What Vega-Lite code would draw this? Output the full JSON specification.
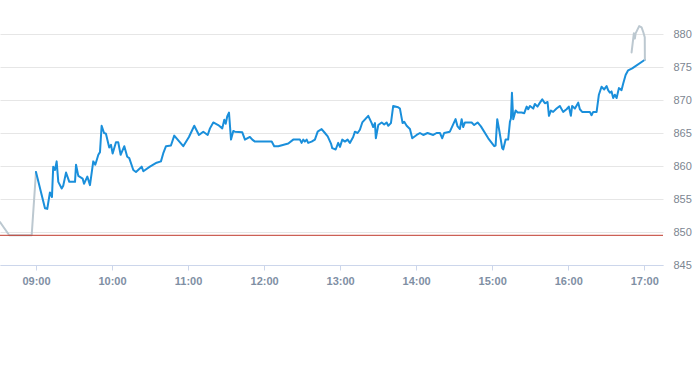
{
  "$schema": "https://vega.github.io/schema/vega-lite/v6.json",
  "width": 663,
  "height": 264,
  "autosize": {"type": "none"},
  "padding": {"left": 0, "top": 1, "right": 30, "bottom": 100},
  "background": "white",
  "config": {"view": {"stroke": null}, "font": "Liberation Sans"},
  "layer": [
    {
      "data": {"values": [
        {"s": "pre", "t": 511.6, "p": 851.5},
        {"s": "pre", "t": 518.9, "p": 849.5},
        {"s": "pre", "t": 536.6, "p": 849.5},
        {"s": "pre", "t": 540.0, "p": 859.1},
        {"s": "main", "t": 540.0, "p": 859.1},
        {"s": "main", "t": 547.1, "p": 853.6},
        {"s": "main", "t": 548.9, "p": 853.5},
        {"s": "main", "t": 551.0, "p": 856.0},
        {"s": "main", "t": 552.6, "p": 855.3},
        {"s": "main", "t": 553.6, "p": 859.9},
        {"s": "main", "t": 555.0, "p": 859.4},
        {"s": "main", "t": 556.3, "p": 860.7},
        {"s": "main", "t": 557.6, "p": 857.6},
        {"s": "main", "t": 560.3, "p": 856.6},
        {"s": "main", "t": 561.5, "p": 857.0},
        {"s": "main", "t": 563.7, "p": 859.0},
        {"s": "main", "t": 566.3, "p": 857.6},
        {"s": "main", "t": 570.8, "p": 857.6},
        {"s": "main", "t": 571.6, "p": 860.2},
        {"s": "main", "t": 573.4, "p": 858.5},
        {"s": "main", "t": 576.8, "p": 858.1},
        {"s": "main", "t": 577.9, "p": 857.3},
        {"s": "main", "t": 580.5, "p": 858.4},
        {"s": "main", "t": 582.6, "p": 857.1},
        {"s": "main", "t": 585.2, "p": 860.7},
        {"s": "main", "t": 586.8, "p": 860.2},
        {"s": "main", "t": 589.2, "p": 861.7},
        {"s": "main", "t": 590.5, "p": 862.1},
        {"s": "main", "t": 591.8, "p": 866.1},
        {"s": "main", "t": 593.7, "p": 865.0},
        {"s": "main", "t": 595.2, "p": 864.9},
        {"s": "main", "t": 597.8, "p": 862.8},
        {"s": "main", "t": 599.2, "p": 863.2},
        {"s": "main", "t": 600.5, "p": 861.9},
        {"s": "main", "t": 603.1, "p": 863.6},
        {"s": "main", "t": 604.9, "p": 863.6},
        {"s": "main", "t": 606.8, "p": 861.7},
        {"s": "main", "t": 609.7, "p": 863.0},
        {"s": "main", "t": 612.0, "p": 861.4},
        {"s": "main", "t": 613.6, "p": 861.2},
        {"s": "main", "t": 616.8, "p": 859.4},
        {"s": "main", "t": 618.9, "p": 859.1},
        {"s": "main", "t": 623.4, "p": 859.9},
        {"s": "main", "t": 624.7, "p": 859.2},
        {"s": "main", "t": 629.9, "p": 859.9},
        {"s": "main", "t": 635.2, "p": 860.5},
        {"s": "main", "t": 638.6, "p": 860.7},
        {"s": "main", "t": 640.4, "p": 861.9},
        {"s": "main", "t": 642.6, "p": 863.0},
        {"s": "main", "t": 646.5, "p": 863.1},
        {"s": "main", "t": 649.1, "p": 864.6},
        {"s": "main", "t": 651.8, "p": 864.0},
        {"s": "main", "t": 656.2, "p": 863.0},
        {"s": "main", "t": 660.7, "p": 864.4},
        {"s": "main", "t": 664.9, "p": 866.1},
        {"s": "main", "t": 668.6, "p": 864.7},
        {"s": "main", "t": 672.0, "p": 865.2},
        {"s": "main", "t": 675.5, "p": 864.7},
        {"s": "main", "t": 677.3, "p": 865.7},
        {"s": "main", "t": 679.9, "p": 866.6},
        {"s": "main", "t": 683.8, "p": 866.2},
        {"s": "main", "t": 687.0, "p": 865.7},
        {"s": "main", "t": 688.6, "p": 867.0},
        {"s": "main", "t": 689.7, "p": 866.4},
        {"s": "main", "t": 690.9, "p": 867.5},
        {"s": "main", "t": 692.3, "p": 868.1},
        {"s": "main", "t": 693.9, "p": 864.0},
        {"s": "main", "t": 695.7, "p": 865.3},
        {"s": "main", "t": 697.0, "p": 865.2},
        {"s": "main", "t": 702.8, "p": 865.1},
        {"s": "main", "t": 704.9, "p": 864.0},
        {"s": "main", "t": 708.8, "p": 864.4},
        {"s": "main", "t": 710.7, "p": 864.0},
        {"s": "main", "t": 712.8, "p": 863.7},
        {"s": "main", "t": 726.0, "p": 863.7},
        {"s": "main", "t": 728.0, "p": 863.0},
        {"s": "main", "t": 731.2, "p": 863.0},
        {"s": "main", "t": 739.1, "p": 863.4},
        {"s": "main", "t": 743.0, "p": 864.0},
        {"s": "main", "t": 748.3, "p": 864.0},
        {"s": "main", "t": 749.6, "p": 863.5},
        {"s": "main", "t": 750.9, "p": 864.0},
        {"s": "main", "t": 752.2, "p": 863.7},
        {"s": "main", "t": 753.6, "p": 864.0},
        {"s": "main", "t": 754.8, "p": 863.5},
        {"s": "main", "t": 757.5, "p": 863.7},
        {"s": "main", "t": 760.1, "p": 864.0},
        {"s": "main", "t": 762.3, "p": 865.2},
        {"s": "main", "t": 765.4, "p": 865.6},
        {"s": "main", "t": 768.0, "p": 865.0},
        {"s": "main", "t": 770.2, "p": 864.5},
        {"s": "main", "t": 772.8, "p": 863.4},
        {"s": "main", "t": 773.8, "p": 862.7},
        {"s": "main", "t": 776.5, "p": 862.5},
        {"s": "main", "t": 778.5, "p": 863.5},
        {"s": "main", "t": 779.9, "p": 862.9},
        {"s": "main", "t": 781.7, "p": 864.0},
        {"s": "main", "t": 783.8, "p": 863.7},
        {"s": "main", "t": 785.9, "p": 864.0},
        {"s": "main", "t": 787.7, "p": 863.5},
        {"s": "main", "t": 790.3, "p": 864.4},
        {"s": "main", "t": 791.7, "p": 865.2},
        {"s": "main", "t": 793.8, "p": 865.0},
        {"s": "main", "t": 795.6, "p": 865.5},
        {"s": "main", "t": 797.5, "p": 866.6},
        {"s": "main", "t": 802.2, "p": 867.6},
        {"s": "main", "t": 804.9, "p": 866.5},
        {"s": "main", "t": 806.1, "p": 865.9},
        {"s": "main", "t": 807.5, "p": 866.5},
        {"s": "main", "t": 808.2, "p": 864.2},
        {"s": "main", "t": 810.1, "p": 866.2},
        {"s": "main", "t": 812.8, "p": 866.6},
        {"s": "main", "t": 814.8, "p": 866.3},
        {"s": "main", "t": 816.7, "p": 866.6},
        {"s": "main", "t": 818.0, "p": 866.1},
        {"s": "main", "t": 820.1, "p": 866.5},
        {"s": "main", "t": 821.9, "p": 869.1},
        {"s": "main", "t": 825.8, "p": 868.9},
        {"s": "main", "t": 827.2, "p": 868.7},
        {"s": "main", "t": 829.3, "p": 866.5},
        {"s": "main", "t": 830.6, "p": 866.7},
        {"s": "main", "t": 832.5, "p": 866.1},
        {"s": "main", "t": 835.1, "p": 865.6},
        {"s": "main", "t": 836.9, "p": 864.2},
        {"s": "main", "t": 840.4, "p": 864.7},
        {"s": "main", "t": 843.0, "p": 865.0},
        {"s": "main", "t": 845.6, "p": 864.7},
        {"s": "main", "t": 849.0, "p": 865.0},
        {"s": "main", "t": 853.5, "p": 864.7},
        {"s": "main", "t": 856.1, "p": 865.0},
        {"s": "main", "t": 858.8, "p": 865.0},
        {"s": "main", "t": 860.6, "p": 864.2},
        {"s": "main", "t": 862.1, "p": 865.0},
        {"s": "main", "t": 866.6, "p": 865.2},
        {"s": "main", "t": 871.1, "p": 867.1},
        {"s": "main", "t": 872.7, "p": 866.0},
        {"s": "main", "t": 874.5, "p": 865.6},
        {"s": "main", "t": 875.9, "p": 867.1},
        {"s": "main", "t": 877.1, "p": 865.9},
        {"s": "main", "t": 878.5, "p": 866.6},
        {"s": "main", "t": 883.8, "p": 866.6},
        {"s": "main", "t": 885.8, "p": 866.2},
        {"s": "main", "t": 888.5, "p": 866.6},
        {"s": "main", "t": 891.1, "p": 866.0},
        {"s": "main", "t": 896.9, "p": 864.2},
        {"s": "main", "t": 901.6, "p": 863.0},
        {"s": "main", "t": 902.7, "p": 863.1},
        {"s": "main", "t": 904.0, "p": 867.1},
        {"s": "main", "t": 905.5, "p": 865.5},
        {"s": "main", "t": 907.9, "p": 862.7},
        {"s": "main", "t": 908.7, "p": 862.5},
        {"s": "main", "t": 910.6, "p": 864.0},
        {"s": "main", "t": 912.6, "p": 864.0},
        {"s": "main", "t": 914.0, "p": 866.7},
        {"s": "main", "t": 914.8, "p": 867.2},
        {"s": "main", "t": 915.6, "p": 871.1},
        {"s": "main", "t": 916.6, "p": 867.1},
        {"s": "main", "t": 918.5, "p": 868.4},
        {"s": "main", "t": 920.1, "p": 868.1},
        {"s": "main", "t": 923.2, "p": 868.1},
        {"s": "main", "t": 925.3, "p": 868.0},
        {"s": "main", "t": 927.2, "p": 869.0},
        {"s": "main", "t": 928.4, "p": 868.6},
        {"s": "main", "t": 929.8, "p": 869.1},
        {"s": "main", "t": 932.4, "p": 868.7},
        {"s": "main", "t": 933.7, "p": 869.4},
        {"s": "main", "t": 935.8, "p": 869.0},
        {"s": "main", "t": 937.7, "p": 869.6},
        {"s": "main", "t": 939.5, "p": 870.1},
        {"s": "main", "t": 941.6, "p": 869.5},
        {"s": "main", "t": 943.7, "p": 869.7},
        {"s": "main", "t": 944.8, "p": 867.6},
        {"s": "main", "t": 946.3, "p": 868.4},
        {"s": "main", "t": 948.1, "p": 868.2},
        {"s": "main", "t": 950.8, "p": 868.7},
        {"s": "main", "t": 953.4, "p": 869.1},
        {"s": "main", "t": 956.0, "p": 868.2},
        {"s": "main", "t": 958.7, "p": 868.6},
        {"s": "main", "t": 960.5, "p": 869.0},
        {"s": "main", "t": 962.1, "p": 867.6},
        {"s": "main", "t": 963.1, "p": 869.1},
        {"s": "main", "t": 965.3, "p": 868.7},
        {"s": "main", "t": 967.9, "p": 869.6},
        {"s": "main", "t": 969.2, "p": 868.6},
        {"s": "main", "t": 971.0, "p": 868.2},
        {"s": "main", "t": 977.1, "p": 868.2},
        {"s": "main", "t": 978.4, "p": 867.7},
        {"s": "main", "t": 979.7, "p": 868.2},
        {"s": "main", "t": 982.4, "p": 868.2},
        {"s": "main", "t": 984.2, "p": 870.8},
        {"s": "main", "t": 986.3, "p": 872.0},
        {"s": "main", "t": 988.4, "p": 871.6},
        {"s": "main", "t": 990.3, "p": 872.1},
        {"s": "main", "t": 991.5, "p": 871.5},
        {"s": "main", "t": 992.9, "p": 871.1},
        {"s": "main", "t": 994.2, "p": 871.3},
        {"s": "main", "t": 995.5, "p": 870.3},
        {"s": "main", "t": 996.8, "p": 870.8},
        {"s": "main", "t": 998.2, "p": 870.3},
        {"s": "main", "t": 1000.0, "p": 871.8},
        {"s": "main", "t": 1002.1, "p": 871.5},
        {"s": "main", "t": 1003.4, "p": 872.5},
        {"s": "main", "t": 1005.3, "p": 873.8},
        {"s": "main", "t": 1007.3, "p": 874.5},
        {"s": "main", "t": 1010.5, "p": 874.8},
        {"s": "main", "t": 1020.5, "p": 876.1},
        {"s": "post", "t": 1010.0, "p": 877.2},
        {"s": "post", "t": 1011.8, "p": 880.1},
        {"s": "post", "t": 1012.6, "p": 879.3},
        {"s": "post", "t": 1013.2, "p": 880.1},
        {"s": "post", "t": 1016.0, "p": 881.2},
        {"s": "post", "t": 1017.9, "p": 881.0},
        {"s": "post", "t": 1019.2, "p": 880.3},
        {"s": "post", "t": 1020.4, "p": 879.5},
        {"s": "post", "t": 1020.5, "p": 876.1}
      ]},
      "mark": {"type": "line", "strokeWidth": 2, "strokeJoin": "round", "strokeCap": "round"},
      "encoding": {
        "x": {
          "field": "t", "type": "quantitative",
          "scale": {"domain": [511.6, 1034.8], "nice": false, "zero": false},
          "axis": {
            "title": null, "grid": false,
            "values": [540, 600, 660, 720, 780, 840, 900, 960, 1020],
            "labelExpr": "timeFormat(datetime(2024, 0, 1, 0, datum.value), '%H:%M')",
            "domainColor": "#ccd6eb", "tickColor": "#ccd6eb", "tickSize": 5,
            "labelColor": "#7f8fa4", "labelFontWeight": "bold", "labelFontSize": 11,
            "labelPadding": 5, "labelFont": "Liberation Sans"
          }
        },
        "y": {
          "field": "p", "type": "quantitative",
          "scale": {"domain": [845, 885], "nice": false, "zero": false},
          "axis": {
            "orient": "right", "title": null,
            "values": [845, 850, 855, 860, 865, 870, 875, 880],
            "labelOverlap": false,
            "grid": true, "gridColor": "#e6e6e6", "domain": false, "ticks": false,
            "labelColor": "#7c8591", "labelFontSize": 11, "labelPadding": 10,
            "labelFont": "Liberation Sans"
          }
        },
        "color": {
          "field": "s", "type": "nominal",
          "scale": {"domain": ["pre", "main", "post"], "range": ["#bcc8d0", "#1a8fdb", "#bcc8d0"]},
          "legend": null
        },
        "order": {"field": "t", "type": "quantitative"}
      }
    },
    {
      "data": {"values": [{"prev": 849.5}]},
      "mark": {"type": "rule", "color": "#c0392b", "strokeWidth": 1},
      "encoding": {"y": {
        "field": "prev", "type": "quantitative",
        "scale": {"domain": [845, 885], "nice": false, "zero": false},
        "axis": {
          "orient": "right", "title": null,
          "values": [845, 850, 855, 860, 865, 870, 875, 880],
          "labelOverlap": false,
          "grid": true, "gridColor": "#e6e6e6", "domain": false, "ticks": false,
          "labelColor": "#7c8591", "labelFontSize": 11, "labelPadding": 10,
          "labelFont": "Liberation Sans"
        }
      }}
    }
  ]
}
